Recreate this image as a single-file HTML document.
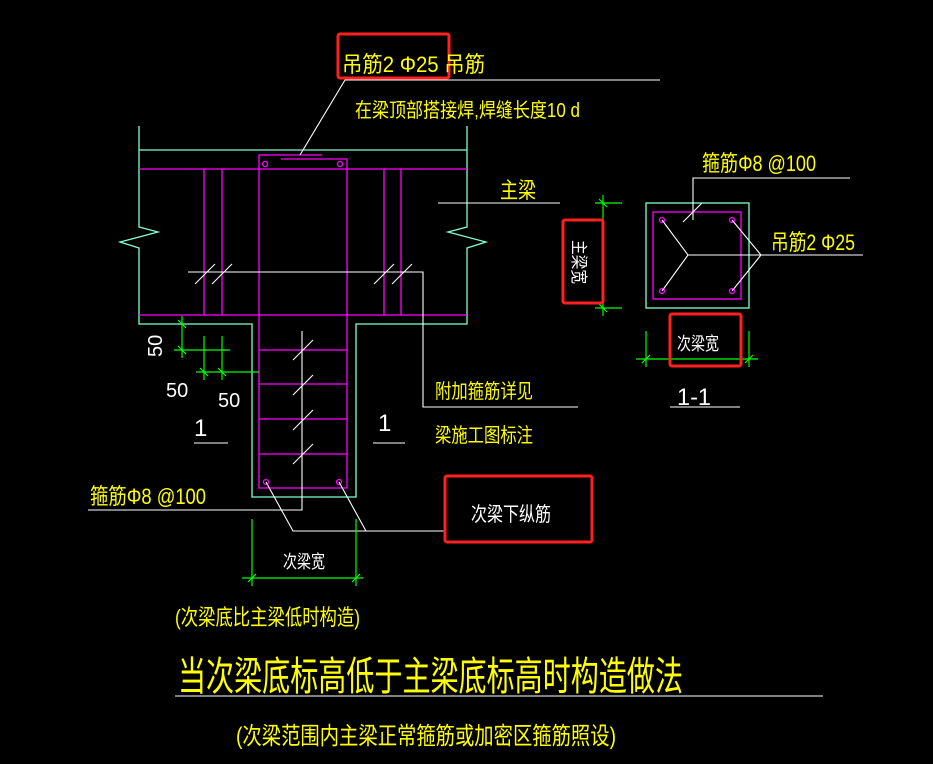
<!DOCTYPE html>
<html><head><meta charset="utf-8"><style>
html,body{margin:0;padding:0;background:#000;}
svg{display:block}
text{font-family:"Liberation Sans","Noto Sans CJK SC",sans-serif;}
</style></head><body>
<svg width="933" height="764" viewBox="0 0 933 764" xmlns="http://www.w3.org/2000/svg">
<rect width="933" height="764" fill="#000"/>
<g fill="none" stroke-width="1.3">
<g stroke="#7fffd4">
<polyline points="139,126 139,227 158,232 120,242 139,248 139,324 252,324 252,497 356,497 356,324 467,324 467,248 486,242 448,232 467,227 467,126"/>
<line x1="139" y1="150" x2="467" y2="150"/>
<rect x="646" y="203" width="103" height="105"/>
</g>
<g stroke="#ff00ff">
<line x1="139" y1="169" x2="467" y2="169"/>
<line x1="139" y1="315" x2="467" y2="315"/>
<line x1="204" y1="169" x2="204" y2="315"/><line x1="222" y1="169" x2="222" y2="315"/>
<line x1="384" y1="169" x2="384" y2="315"/><line x1="401" y1="169" x2="401" y2="315"/>
<polyline points="322,155 259,155 259,488 347,488 347,159 281,159"/>
<line x1="259" y1="350" x2="347" y2="350"/><line x1="259" y1="384" x2="347" y2="384"/>
<line x1="259" y1="419" x2="347" y2="419"/><line x1="259" y1="454" x2="347" y2="454"/>
<circle cx="265" cy="164" r="2.5"/><circle cx="340" cy="164" r="2.5"/>
<circle cx="266" cy="482" r="2.5"/><circle cx="339" cy="482" r="2.5"/>
<rect x="653" y="212" width="88" height="87"/>
<circle cx="662" cy="220" r="2.5"/><circle cx="732" cy="220" r="2.5"/>
<circle cx="662" cy="291" r="2.5"/><circle cx="732" cy="291" r="2.5"/>
</g>
<g stroke="#fff" stroke-width="1.1">
<polyline points="300,155 345,80 660,80"/>
<polyline points="188,272 423,272 423,407 578,407"/>
<line x1="195" y1="284" x2="215" y2="264"/><line x1="212" y1="284" x2="232" y2="264"/>
<line x1="374" y1="284" x2="394" y2="264"/><line x1="392" y1="284" x2="412" y2="264"/>
<polyline points="302,331 302,510 88,510"/>
<line x1="293" y1="360" x2="313" y2="340"/><line x1="293" y1="395" x2="313" y2="375"/>
<line x1="293" y1="430" x2="313" y2="410"/><line x1="293" y1="464" x2="313" y2="444"/>
<polyline points="266,482 293,531 445,531"/>
<polyline points="339,482 366,531"/>
<line x1="438" y1="203" x2="560" y2="203"/>
<polyline points="662,220 688,255 662,291"/>
<polyline points="732,220 761,255 732,291"/>
<line x1="688" y1="255" x2="863" y2="255"/>
<polyline points="693,220 693,178 850,178"/>
<line x1="683" y1="222" x2="702" y2="203"/>
<line x1="194" y1="443" x2="228" y2="443"/><line x1="373" y1="443" x2="405" y2="443"/>
<line x1="670" y1="407" x2="740" y2="407"/>
<line x1="175" y1="696" x2="823" y2="696"/>
</g>
<g stroke="#00ff00" stroke-width="1.2">
<line x1="182" y1="316" x2="182" y2="358"/><line x1="174" y1="350" x2="230" y2="350"/>
<line x1="204" y1="336" x2="204" y2="380"/><line x1="222" y1="336" x2="222" y2="380"/>
<line x1="196" y1="372" x2="259" y2="372"/>
<line x1="178" y1="320" x2="186" y2="328"/><line x1="178" y1="346" x2="186" y2="354"/>
<line x1="200" y1="368" x2="208" y2="376"/><line x1="218" y1="368" x2="226" y2="376"/>
<line x1="252" y1="519" x2="252" y2="586"/><line x1="356" y1="519" x2="356" y2="586"/>
<line x1="242" y1="578" x2="363" y2="578"/>
<line x1="248" y1="582" x2="256" y2="574"/><line x1="352" y1="582" x2="360" y2="574"/>
<line x1="603" y1="195" x2="603" y2="316"/>
<line x1="595" y1="203" x2="622" y2="203"/><line x1="595" y1="308" x2="622" y2="308"/>
<line x1="599" y1="199" x2="607" y2="207"/><line x1="599" y1="304" x2="607" y2="312"/>
<line x1="636" y1="359" x2="758" y2="359"/>
<line x1="646" y1="331" x2="646" y2="367"/><line x1="749" y1="331" x2="749" y2="367"/>
<line x1="642" y1="363" x2="650" y2="355"/><line x1="745" y1="363" x2="753" y2="355"/>
</g>
<g stroke="#ff2020" stroke-width="3">
<rect x="338" y="34" width="111" height="44" rx="2"/>
<rect x="445" y="476" width="147" height="66" rx="2"/>
<rect x="563" y="220" width="40" height="83" rx="2"/>
<rect x="670" y="314" width="71" height="52" rx="2"/>
</g>
</g>
<g fill="#ffff00">
<text x="342" y="72" font-size="22" textLength="143" lengthAdjust="spacingAndGlyphs">吊筋2 Φ25 吊筋</text>
<text x="355" y="117" font-size="20" textLength="225" lengthAdjust="spacingAndGlyphs">在梁顶部搭接焊,焊缝长度10 d</text>
<text x="500" y="198" font-size="22" textLength="36" lengthAdjust="spacingAndGlyphs">主梁</text>
<text x="702" y="171" font-size="22" textLength="114" lengthAdjust="spacingAndGlyphs">箍筋Φ8 @100</text>
<text x="771" y="250" font-size="22" textLength="84" lengthAdjust="spacingAndGlyphs">吊筋2 Φ25</text>
<text x="435" y="398" font-size="20" textLength="98" lengthAdjust="spacingAndGlyphs">附加箍筋详见</text>
<text x="435" y="442" font-size="20" textLength="98" lengthAdjust="spacingAndGlyphs">梁施工图标注</text>
<text x="90" y="504" font-size="22" textLength="116" lengthAdjust="spacingAndGlyphs">箍筋Φ8 @100</text>
<text x="175" y="625" font-size="22" textLength="185" lengthAdjust="spacingAndGlyphs">(次梁底比主梁低时构造)</text>
<text x="178" y="690" font-size="40" textLength="505" lengthAdjust="spacingAndGlyphs">当次梁底标高低于主梁底标高时构造做法</text>
<text x="236" y="744" font-size="24" textLength="380" lengthAdjust="spacingAndGlyphs">(次梁范围内主梁正常箍筋或加密区箍筋照设)</text>
</g>
<g fill="#fff">
<text x="471" y="521" font-size="20" textLength="80" lengthAdjust="spacingAndGlyphs">次梁下纵筋</text>
<text x="283" y="568" font-size="18" textLength="42" lengthAdjust="spacingAndGlyphs">次梁宽</text>
<text x="677" y="350" font-size="18" textLength="42" lengthAdjust="spacingAndGlyphs">次梁宽</text>
<text font-size="17" transform="translate(573,240) rotate(90)" textLength="44" lengthAdjust="spacingAndGlyphs">主梁宽</text>
<text font-size="20" transform="translate(162,357) rotate(-90)">50</text>
<text x="166" y="397" font-size="20">50</text>
<text x="218" y="407" font-size="20">50</text>
<text x="194" y="436" font-size="24">1</text>
<text x="378" y="431" font-size="24">1</text>
<text x="677" y="405" font-size="24" textLength="34" lengthAdjust="spacingAndGlyphs">1-1</text>
</g>
</svg>
</body></html>
